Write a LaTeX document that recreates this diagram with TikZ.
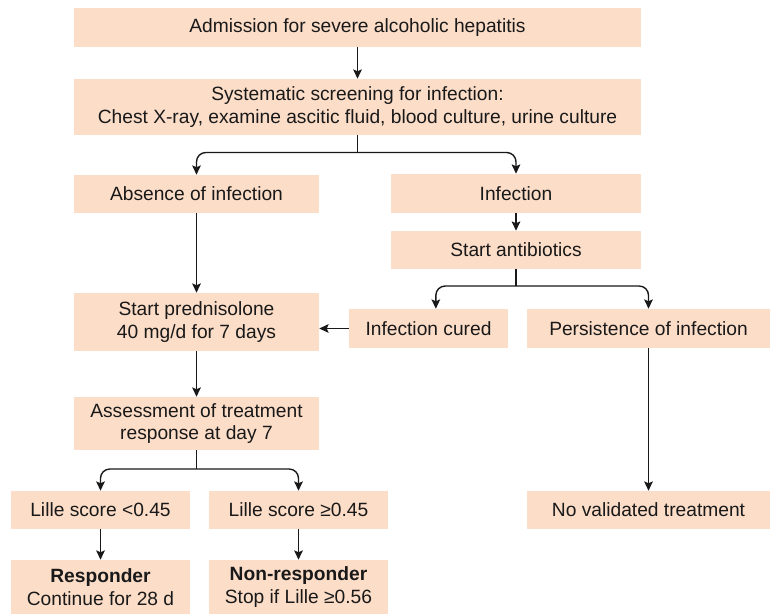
\documentclass[tikz,border=0pt]{standalone}
\usepackage{fontspec}
\setmainfont{Liberation Sans}
\usetikzlibrary{arrows.meta,positioning}
\definecolor{peach}{RGB}{252,221,200}
\definecolor{ink}{RGB}{25,25,25}

\begin{document}
\begin{tikzpicture}[x=0.75pt,y=-0.75pt,
  box/.style 2 args={fill=peach,text=ink,align=center,inner sep=0pt,
    minimum width=#1*0.75pt,minimum height=#2*0.75pt,
    font=\fontsize{14.4}{16.8}\selectfont},
  line/.style={draw=ink,line width=1.05pt},
  arr/.style={line,-{Stealth[length=7pt,width=6.5pt,inset=1.4pt]}},
  fork/.style={arr,rounded corners=7pt},
]
\useasboundingbox (0,0) rectangle (770,614);

% the main column
\node[box={567}{39}] (adm) at (357.5,27.5) {Admission for severe alcoholic hepatitis};
\node[box={567}{56}] (screen) at (357.5,107)
  {Systematic screening for infection:\\Chest X-ray, examine ascitic fluid, blood culture, urine culture};
\node[box={245}{38}] (absent) at (196.5,194) {Absence of infection};
\node[box={245}{58}] (pred) at (196.5,322) {Start prednisolone\\40 mg/d for 7 days};
\node[box={245}{53}] (assess) at (196.5,423.5) {Assessment of treatment\\response at day 7};

% the infection column
\node[box={250}{39}] (infect) at (516,193.5) {Infection};
\node[box={250}{38}] (antib) at (516,250) {Start antibiotics};
\node[box={159}{39}] (cured) at (428.5,328.5) {Infection cured};
\node[box={243}{39}] (persist) at (648.5,328.5) {Persistence of infection};
\node[box={243}{38}] (novalid) at (648.5,510) {No validated treatment};

% the response boxes
\node[box={179}{38}] (lilleA) at (100.5,510) {Lille score <0.45};
\node[box={179}{38}] (lilleB) at (298.5,510) {Lille score ≥0.45};
\node[box={179}{54}] (resp) at (100.5,587) {\textbf{Responder}\\Continue for 28 d};
\node[box={179}{54}] (nonresp) at (298.5,587) {\textbf{Non-responder}\\Stop if Lille ≥0.56};

% the fork points
\coordinate (f1) at (357.5,152.5);
\coordinate (f2) at (516,286);
\coordinate (f3) at (196.5,469);

% straight arrows
\foreach \a/\b in {adm/screen,infect/antib,absent/pred,pred/assess,lilleA/resp,lilleB/nonresp,persist/novalid}
  \draw[arr] (\a) -- (\b);
\draw[arr] (cured.west) -- (cured.west -| pred.east);

% forks
\draw[line] (screen) -- (f1);
\draw[fork] (f1) -| (absent.north);
\draw[fork] (f1) -| (infect.north);
\draw[line] (antib) -- (f2);
\draw[fork] (f2) -| ([xshift=5.5pt]cured.north);
\draw[fork] (f2) -| (persist.north);
\draw[line] (assess) -- (f3);
\draw[fork] (f3) -| (lilleA.north);
\draw[fork] (f3) -| (lilleB.north);
\end{tikzpicture}
\end{document}
